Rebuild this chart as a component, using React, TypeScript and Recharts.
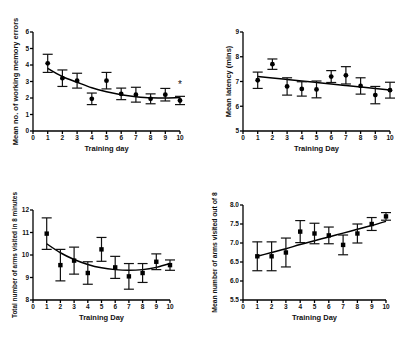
import { ComposedChart, Line, Scatter, ErrorBar, XAxis, YAxis, ReferenceDot } from 'recharts';

const days = [1, 2, 3, 4, 5, 6, 7, 8, 9, 10];
const dayTicks = [0, 1, 2, 3, 4, 5, 6, 7, 8, 9, 10];

// Panel A: working memory errors
const errorsMean = [4.1, 3.2, 3.05, 1.95, 3.05, 2.25, 2.2, 1.95, 2.2, 1.85];
const errorsSem = [0.55, 0.5, 0.45, 0.35, 0.5, 0.35, 0.45, 0.3, 0.38, 0.25];
const errorsFit = [3.8, 3.3, 2.95, 2.62, 2.38, 2.2, 2.08, 2.01, 2.0, 2.03];
const errorsTicks = [0, 1, 2, 3, 4, 5, 6];

// Panel B: latency
const latencyMean = [7.05, 7.7, 6.8, 6.7, 6.68, 7.2, 7.25, 6.82, 6.45, 6.65];
const latencySem = [0.33, 0.21, 0.35, 0.29, 0.34, 0.24, 0.35, 0.33, 0.35, 0.32];
const latencyFit = [7.2, 7.14, 7.08, 7.02, 6.96, 6.9, 6.84, 6.78, 6.72, 6.66];
const latencyTicks = [5, 6, 7, 8, 9];

// Panel C: total arms visited
const armsMean = [10.95, 9.55, 9.75, 9.2, 10.25, 9.45, 9.05, 9.2, 9.7, 9.55];
const armsSem = [0.7, 0.7, 0.6, 0.5, 0.53, 0.49, 0.57, 0.42, 0.35, 0.23];
const armsFit = [10.5, 10.1, 9.8, 9.58, 9.43, 9.35, 9.32, 9.35, 9.45, 9.62];
const armsTicks = [8, 9, 10, 11, 12];

// Panel D: arms visited out of 8
const outOf8Mean = [6.65, 6.65, 6.75, 7.3, 7.25, 7.2, 6.95, 7.25, 7.5, 7.7];
const outOf8Sem = [0.38, 0.38, 0.38, 0.29, 0.27, 0.22, 0.26, 0.25, 0.17, 0.1];
const outOf8Fit = [6.65, 6.75, 6.85, 6.96, 7.06, 7.16, 7.26, 7.36, 7.46, 7.57];
const outOf8Ticks = [5.5, 6.0, 6.5, 7.0, 7.5, 8.0];

const font = 'Liberation Sans, Arial, sans-serif';
const tickStyle = { fontSize: 6.5, fontWeight: 700, fill: '#111', fontFamily: font };

const Square = (props: any) => (
  <rect x={props.cx - 2.2} y={props.cy - 2.2} width={4.4} height={4.4} fill="#000" />
);
const Dot = (props: any) => <circle cx={props.cx} cy={props.cy} r={2.4} fill="#000" />;

type PanelProps = {
  left: number;
  top: number;
  width: number;
  height: number;
  margin: { top: number; right: number; bottom: number; left: number };
  yWidth: number;
  mean: number[];
  sem: number[];
  fit: number[];
  yTicks: number[];
  yLabel: string;
  yLabelSize: number;
  yLabelOffset: number;
  xLabel: string;
  square?: boolean;
  decimals?: number;
  star?: { x: number; y: number };
};

function Panel(p: PanelProps) {
  const rows = days.map((d, i) => ({ day: d, mean: p.mean[i], sem: p.sem[i], fit: p.fit[i] }));
  const yMin = p.yTicks[0];
  const yMax = p.yTicks[p.yTicks.length - 1];
  return (
    <div style={{ position: 'absolute', left: p.left, top: p.top }}>
      <ComposedChart width={p.width} height={p.height} data={rows} margin={p.margin}>
        <XAxis
          dataKey="day"
          type="number"
          domain={[0, 10]}
          ticks={dayTicks}
          interval={0}
          height={12}
          tick={tickStyle}
          tickSize={3}
          tickMargin={1}
          stroke="#000"
          strokeWidth={1.3}
          label={{
            value: p.xLabel,
            position: 'bottom',
            offset: 3,
            style: { fontSize: 7.5, fontWeight: 700, fill: '#111', fontFamily: font },
          }}
        />
        <YAxis
          type="number"
          domain={[yMin, yMax]}
          ticks={p.yTicks}
          interval={0}
          width={p.yWidth}
          tick={tickStyle}
          tickSize={3}
          tickMargin={1}
          stroke="#000"
          strokeWidth={1.3}
          tickFormatter={(v: number) => (p.decimals ? v.toFixed(p.decimals) : String(v))}
          label={{
            value: p.yLabel,
            angle: -90,
            position: 'insideLeft',
            offset: p.yLabelOffset,
            style: {
              fontSize: p.yLabelSize,
              fontWeight: 700,
              fill: '#111',
              fontFamily: font,
              textAnchor: 'middle',
            },
          }}
        />
        <Line
          dataKey="fit"
          type="monotone"
          stroke="#000"
          strokeWidth={1.5}
          dot={false}
          isAnimationActive={false}
        />
        <Scatter dataKey="mean" shape={p.square ? Square : Dot} isAnimationActive={false}>
          <ErrorBar dataKey="sem" direction="y" width={5} stroke="#111" strokeWidth={1.2} />
        </Scatter>
        {p.star && (
          <ReferenceDot
            x={p.star.x}
            y={p.star.y}
            r={0}
            shape={(s: any) => (
              <text x={s.cx} y={s.cy + 4} textAnchor="middle" fontSize={10} fontFamily={font} fill="#111">
                *
              </text>
            )}
          />
        )}
      </ComposedChart>
    </div>
  );
}

export default function App() {
  return (
    <div style={{ position: 'absolute', left: 0, top: 0, width: 405, height: 338, background: '#fff' }}>
      <Panel
        left={0}
        top={0}
        width={200}
        height={170}
        margin={{ top: 32, right: 20, bottom: 27, left: 13 }}
        yWidth={20}
        mean={errorsMean}
        sem={errorsSem}
        fit={errorsFit}
        yTicks={errorsTicks}
        yLabel="Mean no. of working memory errors"
        yLabelSize={7.5}
        yLabelOffset={2}
        xLabel="Training day"
        star={{ x: 10, y: 2.85 }}
      />
      <Panel
        left={200}
        top={0}
        width={205}
        height={170}
        margin={{ top: 32, right: 15, bottom: 27, left: 23 }}
        yWidth={20}
        mean={latencyMean}
        sem={latencySem}
        fit={latencyFit}
        yTicks={latencyTicks}
        yLabel="Mean latency (mins)"
        yLabelSize={7.5}
        yLabelOffset={5}
        xLabel="Training  Day"
      />
      <Panel
        left={0}
        top={170}
        width={200}
        height={168}
        margin={{ top: 40, right: 30, bottom: 26, left: 13 }}
        yWidth={20}
        mean={armsMean}
        sem={armsSem}
        fit={armsFit}
        yTicks={armsTicks}
        yLabel="Total number of arms visited in 8 minutes"
        yLabelSize={6.4}
        yLabelOffset={2}
        xLabel="Training Day"
        square
      />
      <Panel
        left={200}
        top={170}
        width={205}
        height={168}
        margin={{ top: 35, right: 19, bottom: 26, left: 13 }}
        yWidth={30}
        mean={outOf8Mean}
        sem={outOf8Sem}
        fit={outOf8Fit}
        yTicks={outOf8Ticks}
        yLabel="Mean number of arms visited out of 8"
        yLabelSize={6.8}
        yLabelOffset={2}
        xLabel="Training Day"
        square
        decimals={1}
      />
    </div>
  );
}
